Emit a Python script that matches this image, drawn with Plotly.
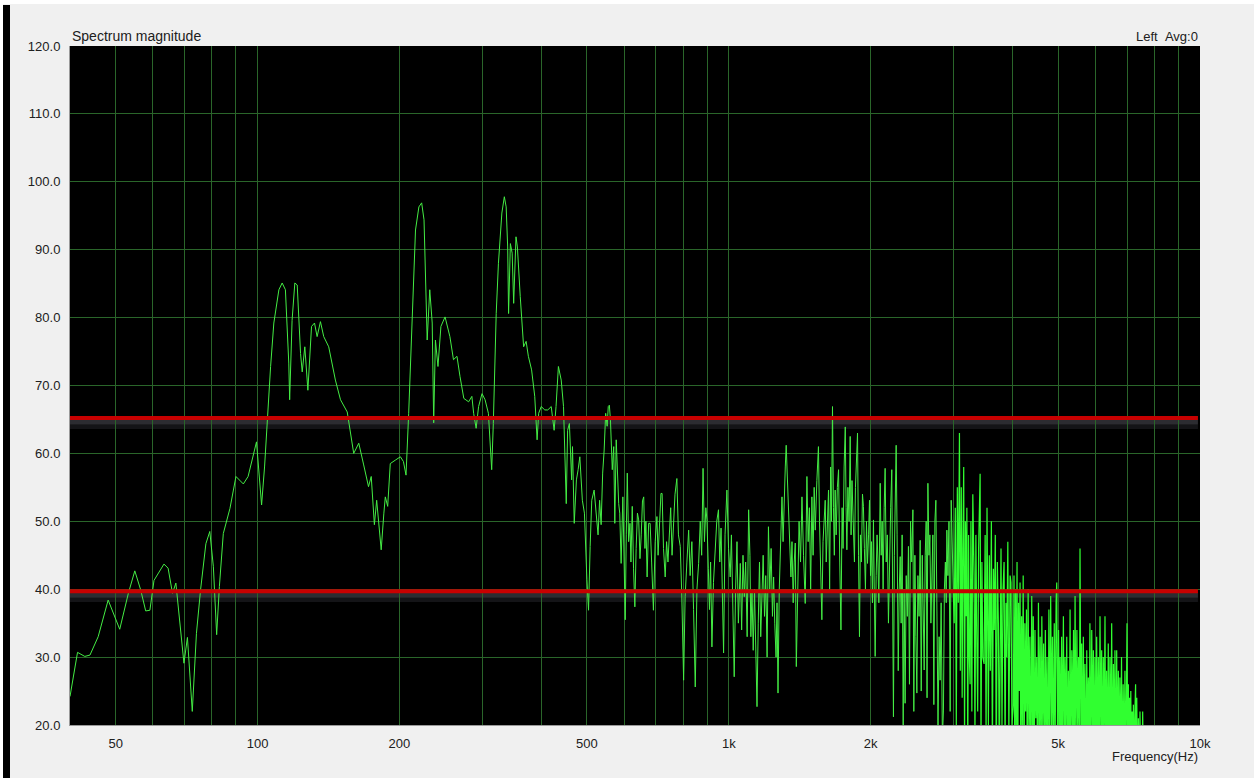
import math
import plotly.graph_objects as go

# ---------------- data ----------------
freq_low = [40.0, 41.5, 43.0, 44.1, 45.9, 48.2, 51.0, 53.2, 54.9, 56.5,
            57.9, 59.1, 60.3, 63.3, 64.6, 66.0, 67.1, 68.4, 69.8, 71.0,
            72.7, 74.2, 75.7, 77.7, 79.2, 80.6, 81.9, 83.0, 84.6, 87.4,
            90.0, 93.3, 95.5, 99.5, 102.0, 103.5, 105.0, 106.6, 108.3, 111.0,
            112.8, 114.6, 116.5, 117.0, 118.4, 120.0, 121.4, 123.4, 124.4, 126.0,
            127.9, 130.2, 132.1, 133.8, 136.0, 138.2, 141.6, 146.3, 150.0, 155.0,
            160.0, 164.0, 168.0, 172.0, 174.3, 177.0, 179.0, 183.0, 185.4, 186.7,
            188.9, 191.3, 196.0, 201.0, 204.0, 206.6, 209.3, 212.8, 216.4, 220.0,
            223.0, 225.6, 228.0, 229.1, 232.0, 234.8, 236.5, 238.5, 241.5, 245.0,
            250.0, 256.0, 260.5, 265.0, 269.0, 274.0, 280.5, 285.0, 287.5, 291.0,
            294.5, 299.5, 304.0, 309.0, 314.0, 316.5, 321.0, 324.5, 330.0, 334.0,
            337.0, 339.5, 341.0, 344.0, 347.0, 349.6, 353.6, 356.0, 361.0, 367.0,
            371.5, 375.6, 381.6, 387.5, 392.0, 395.0, 400.0, 407.0, 413.0, 420.0,
            426.0, 430.0, 435.0, 441.0, 446.0, 450.0, 452.0, 455.0, 459.0, 464.0,
            466.0, 470.0, 475.0, 479.0, 483.0, 489.0, 494.0]
db_low = [24.2, 30.7, 30.1, 30.3, 33.0, 38.4, 34.1, 39.4, 42.7, 39.9,
          36.8, 36.9, 41.3, 43.7, 43.1, 39.4, 40.9, 35.5, 29.1, 32.9,
          22.0, 33.5, 39.9, 46.7, 48.5, 43.3, 33.3, 40.4, 48.2, 51.9,
          56.6, 55.5, 56.6, 61.7, 52.4, 58.0, 66.0, 72.8, 79.2, 84.1,
          85.1, 84.1, 73.3, 67.9, 79.6, 85.1, 84.8, 74.7, 72.0, 75.7,
          69.3, 78.7, 79.2, 77.2, 79.4, 77.2, 75.7, 70.8, 67.9, 66.1,
          60.0, 61.5, 58.3, 55.1, 56.6, 49.5, 53.1, 45.8, 51.2, 53.6,
          52.2, 58.5, 59.0, 59.5, 58.8, 56.8, 65.9, 80.6, 92.9, 96.3,
          96.9, 94.4, 78.7, 76.7, 84.1, 79.2, 64.5, 76.7, 72.8, 78.7,
          80.1, 77.2, 73.8, 74.3, 71.3, 68.1, 67.6, 68.4, 65.9, 63.7,
          66.9, 68.8, 67.9, 65.9, 57.6, 64.4, 80.6, 88.0, 95.4, 97.8,
          96.3, 90.4, 80.6, 90.9, 89.5, 82.1, 91.9, 90.4, 83.1, 75.7,
          76.5, 74.3, 72.3, 68.4, 62.0, 65.9, 66.9, 66.4, 66.4, 66.9,
          63.4, 66.9, 72.8, 70.8, 66.9, 57.1, 52.6, 63.4, 64.4, 56.1,
          61.0, 49.7, 56.1, 57.6, 59.5, 53.1, 51.2]

freq_mid = [500, 504, 508, 512, 518, 524, 528, 532, 536, 540,
            544, 548, 552, 555, 558, 561, 566, 570, 573, 577,
            581, 584, 587, 591, 596, 600, 603, 606, 609, 613,
            617, 620, 624, 628, 632, 636, 640, 644, 648, 652,
            656, 660, 664, 667, 671, 676, 681, 686, 692, 698,
            704, 708, 713, 718, 722, 727, 733, 738, 743, 748,
            753, 758, 763, 769, 776, 782, 789, 795, 802, 808,
            815, 822, 828, 835, 842, 849, 856, 863, 870, 876,
            882, 888, 894, 899, 905, 910, 915, 921, 928, 936,
            943, 951, 957, 963, 969, 975, 982, 991, 999, 1007,
            1013, 1020, 1027, 1034, 1041, 1048, 1058, 1065, 1072, 1079,
            1086, 1094, 1102, 1109, 1114, 1120, 1127, 1134, 1141, 1148,
            1155, 1162, 1169, 1176, 1183, 1191, 1198, 1206, 1214, 1222,
            1230, 1238, 1245, 1252, 1260, 1266, 1272, 1280, 1290, 1297,
            1304, 1311, 1318, 1324, 1331, 1339, 1347, 1355, 1362, 1370,
            1377, 1384]
db_mid = [41.4, 36.9, 46.3, 53.1, 54.6, 51.2, 48.0, 53.1, 49.5, 57.1,
          60.5, 65.9, 64.0, 66.9, 67.1, 64.9, 57.6, 61.0, 49.7, 62.0,
          56.1, 52.6, 51.2, 43.8, 53.6, 45.0, 35.5, 48.0, 57.1, 47.0,
          49.7, 44.0, 52.2, 43.0, 37.4, 46.0, 51.2, 50.2, 44.5, 48.0,
          53.0, 53.6, 46.0, 50.0, 41.8, 49.7, 49.7, 44.0, 36.9, 47.0,
          50.7, 45.0, 50.0, 54.1, 54.1, 46.0, 41.8, 47.0, 44.0, 48.2,
          52.0, 45.0, 50.0, 54.0, 56.3, 48.0, 46.3, 39.0, 26.6, 38.9,
          44.0, 48.7, 42.0, 47.0, 37.0, 25.6, 40.0, 43.8, 50.0, 45.0,
          57.8, 47.0, 52.0, 50.2, 43.0, 37.0, 44.0, 31.5, 41.0, 45.8,
          50.0, 51.7, 44.0, 49.0, 38.0, 30.6, 48.0, 54.6, 46.0, 41.8,
          48.0, 38.0, 27.1, 40.0, 47.0, 35.0, 43.8, 34.0, 45.0, 38.9,
          44.0, 33.0, 51.7, 45.0, 33.0, 39.9, 31.0, 40.0, 33.0, 22.7,
          35.0, 44.0, 33.0, 37.9, 45.0, 36.0, 42.0, 30.0, 49.2, 40.0,
          46.0, 36.0, 41.8, 35.0, 30.0, 38.0, 24.7, 40.0, 48.0, 53.6,
          47.0, 55.0, 58.0, 61.2, 57.0, 53.6, 48.0, 41.8, 47.0, 38.0,
          44.0, 46.8]

freq_high = [1391, 1400, 1410, 1420, 1430, 1441, 1453, 1465, 1474, 1483,
             1492, 1501, 1510, 1518, 1526, 1538, 1550, 1558, 1566, 1576,
             1585, 1593, 1602, 1610, 1619, 1628, 1637, 1645, 1652, 1660,
             1668, 1675, 1682, 1690, 1700, 1710, 1720, 1730, 1740, 1748,
             1757, 1767, 1774, 1781, 1790, 1800, 1810, 1818, 1826, 1839,
             1848, 1857, 1866, 1876, 1885, 1894, 1903, 1912, 1922, 1931,
             1940, 1950, 1960, 1970, 1980, 1989, 1999, 2008, 2018, 2028,
             2036, 2045, 2055, 2064, 2073, 2082, 2096, 2106, 2116, 2126,
             2137, 2147, 2158, 2170, 2182, 2194, 2206, 2218, 2227, 2236,
             2246, 2256, 2266, 2276, 2289, 2300, 2311, 2322, 2333, 2345,
             2356, 2367, 2380, 2393, 2406, 2418, 2431, 2445, 2459, 2470,
             2483, 2495, 2507, 2520, 2534, 2548, 2561, 2574, 2586, 2598,
             2611, 2624, 2635, 2646, 2660, 2672, 2685, 2698, 2711, 2724,
             2738, 2751, 2765, 2780, 2795, 2809, 2823, 2840, 2855, 2868,
             2882, 2894, 2903, 2918, 2933, 2950, 2965, 2980, 2995]
db_high = [28.6, 42.0, 50.0, 44.0, 53.6, 45.0, 37.9, 56.6, 47.0, 52.0,
           40.0, 53.6, 45.0, 55.0, 48.7, 56.0, 61.0, 50.0, 42.0, 35.5,
           47.0, 50.0, 53.1, 44.0, 51.0, 54.6, 40.0, 58.0, 50.0, 66.9,
           52.0, 45.0, 54.6, 48.0, 55.0, 57.6, 44.0, 34.0, 52.0, 46.0,
           58.0, 63.9, 52.0, 45.8, 55.0, 50.0, 62.5, 48.0, 56.0, 49.7,
           44.0, 55.0, 60.0, 63.0, 45.0, 33.0, 48.0, 44.0, 54.0, 52.2,
           46.0, 40.0, 50.0, 43.8, 48.0, 53.1, 42.0, 47.0, 38.0, 50.2,
           40.0, 30.1, 42.0, 48.0, 44.0, 38.0, 55.6, 45.0, 50.0, 40.0,
           52.0, 57.8, 44.0, 48.0, 35.0, 46.0, 52.0, 57.6, 40.0, 21.2,
           45.0, 52.0, 61.2, 48.0, 28.0, 40.0, 44.8, 35.0, 48.0, 20.0,
           40.0, 23.2, 42.0, 36.0, 46.3, 26.0, 50.0, 44.0, 51.7, 22.0,
           45.0, 33.0, 24.7, 42.0, 36.0, 47.2, 25.0, 45.0, 34.0, 28.1,
           45.0, 50.0, 24.0, 55.6, 45.0, 48.0, 35.0, 39.9, 48.0, 23.0,
           50.0, 53.1, 40.0, 20.0, 33.0, 26.6, 38.0, 18.0, 22.2, 40.0,
           44.0, 38.0, 48.7, 42.0, 50.0, 22.0, 53.1, 44.0, 40.0]

freq_top = [3009, 3025, 3040, 3055, 3070, 3087, 3100, 3115, 3128, 3139,
            3152, 3165, 3178, 3190, 3201, 3215, 3228, 3240, 3252, 3265,
            3280, 3295, 3316, 3330, 3345, 3360, 3375, 3390, 3415, 3430,
            3445, 3460, 3482,
            3500, 3516, 3532, 3556, 3572, 3590, 3608, 3626, 3644, 3660,
            3678, 3696, 3715, 3734, 3750, 3765, 3782, 3800, 3820, 3839,
            3858, 3875, 3890, 3910, 3930, 3954, 3970, 3990]
db_top = [35, 52, 20, 55, 38, 63, 28, 55, 24, 46,
          58, 17, 50, 36, 52, 14, 48, 30, 26, 50,
          22, 54, 42, 18, 48, 33, 22, 46, 57, 16,
          44, 30, 29,
          48, 18, 52, 20, 45, 28, 50, 15, 43, 34,
          48, 12, 44, 35, 14, 25, 46, 20, 40, 44,
          16, 38, 30, 47, 18, 42, 41, 20]

freq_tail = [4018, 4030, 4045, 4060, 4075, 4090, 4105, 4120, 4135, 4151,
             4166, 4182, 4198, 4215, 4232, 4249, 4266, 4283, 4300, 4318,
             4336, 4354, 4372, 4395, 4410, 4428, 4446, 4465, 4484, 4503,
             4522, 4541, 4560, 4580, 4600, 4617, 4637, 4657, 4677, 4697,
             4715, 4737, 4758, 4779, 4800, 4821, 4842, 4863, 4884, 4906,
             4928, 4950, 4966, 4988, 5010, 5030, 5047,
             5065, 5085, 5105, 5130, 5150, 5170, 5190, 5215, 5235, 5256,
             5280, 5300, 5320, 5345, 5370, 5390, 5410, 5431, 5455, 5480,
             5500, 5525, 5545, 5564, 5590, 5610, 5635, 5655, 5680, 5700,
             5725, 5750, 5770, 5795, 5820, 5840, 5865, 5892, 5915, 5940,
             5960, 5988,
             6010, 6035, 6060, 6085, 6110, 6135, 6160, 6185, 6210, 6235,
             6260, 6286, 6310, 6335, 6360, 6388, 6415, 6440, 6470, 6495,
             6520, 6550, 6575, 6600, 6630, 6656, 6680, 6710, 6735, 6760,
             6787, 6815, 6840, 6870, 6900, 6930, 6960, 7000,
             7025, 7047, 7070, 7090, 7110, 7131, 7155, 7180, 7200, 7222,
             7245, 7270, 7300, 7320, 7342, 7370, 7400, 7430, 7459, 7485,
             7510, 7535, 7557, 7580, 7605]
db_tail = [23, 42, 15, 40, 18, 44, 12, 38, 25, 41,
           14, 36, 20, 42, 11, 35, 22, 37, 13, 40,
           19, 33, 12, 39, 17, 36, 10, 34, 21, 30,
           12, 38, 18, 33, 11, 36, 20, 32, 13, 34,
           18, 30, 10, 37, 16, 39, 20, 33, 12, 35,
           17, 38, 41, 14, 34, 19, 30,
           12, 33, 17, 36, 14, 30, 19, 33, 11, 28,
           15, 37, 13, 31, 18, 34, 12, 39, 16, 34,
           20, 30, 13, 46, 18, 32, 12, 33, 17, 29,
           11, 31, 18, 27, 14, 35, 12, 34, 19, 31,
           13, 30,
           11, 33, 16, 30, 13, 36, 18, 31, 12, 30,
           17, 36, 13, 28, 15, 32, 11, 30, 17, 35,
           12, 29, 15, 31, 12, 31, 16, 28, 11, 27,
           14, 30, 12, 26, 15, 28, 12, 35,
           14, 26, 12, 24, 13, 25, 12, 22, 14, 23,
           11, 21, 26, 13, 24, 12, 21, 13, 22, 12,
           19, 13, 22, 14, 20]

ref_levels = [65.2, 39.7]
x_tick_vals = [50, 100, 200, 500, 1000, 2000, 5000, 10000]
x_tick_text = ["50", "100", "200", "500", "1k", "2k", "5k", "10k"]
x_grid_vals = [50, 60, 70, 80, 90, 100, 200, 300, 400, 500, 600, 700, 800, 900,
               1000, 2000, 3000, 4000, 5000, 6000, 7000, 8000, 9000]
y_tick_vals = [20, 30, 40, 50, 60, 70, 80, 90, 100, 110, 120]

for a, b in [(freq_low, db_low), (freq_mid, db_mid), (freq_high, db_high),
             (freq_top, db_top), (freq_tail, db_tail)]:
    assert len(a) == len(b), (len(a), len(b))

freq_sparse = freq_low + freq_mid + freq_high
db_sparse = db_low + db_mid + db_high
freq_dense = freq_high[-1:] + freq_top + freq_tail
db_dense = db_high[-1:] + db_top + db_tail

# ---------------- layout geometry ----------------
W, H = 1254, 778
ML, MR, MT, MB = 70, 54, 46, 53
PW, PH = W - ML - MR, H - MT - MB


def px(xp):
    return (xp - ML) / PW


def py(yp):
    return (H - MB - yp) / PH


FONT = "Liberation Sans, Arial, sans-serif"
TXT = "#202020"
GRID = "#2a662a"

fig = go.Figure()
fig.add_trace(go.Scatter(x=freq_sparse, y=db_sparse, mode="lines",
                         line=dict(color="#44ec44", width=1),
                         hoverinfo="skip", showlegend=False))
fig.add_trace(go.Scatter(x=freq_dense, y=db_dense, mode="lines",
                         line=dict(color="#30ff30", width=1.2),
                         hoverinfo="skip", showlegend=False))

shapes = []
for lv in ref_levels:
    shapes.append(dict(type="rect", xref="x", yref="y", x0=40, x1=9900,
                       y0=lv - 0.95, y1=lv - 0.2, fillcolor="rgba(80,80,90,0.55)",
                       line=dict(width=0), layer="below"))
    shapes.append(dict(type="rect", xref="x", yref="y", x0=40, x1=9900,
                       y0=lv - 1.6, y1=lv - 0.95, fillcolor="rgba(80,80,90,0.25)",
                       line=dict(width=0), layer="below"))
    shapes.append(dict(type="line", xref="x", yref="y", x0=40, x1=9900,
                       y0=lv, y1=lv, line=dict(color="#c80000", width=4),
                       layer="above"))
# window decorations
shapes.append(dict(type="rect", xref="paper", yref="paper",
                   x0=px(3), x1=px(10), y0=py(778), y1=py(5),
                   fillcolor="#000000", line=dict(width=0)))
shapes.append(dict(type="rect", xref="paper", yref="paper",
                   x0=px(0), x1=px(1254), y0=py(4), y1=py(0),
                   fillcolor="#ffffff", line=dict(width=0)))
shapes.append(dict(type="rect", xref="paper", yref="paper",
                   x0=px(0), x1=px(3), y0=py(778), y1=py(0),
                   fillcolor="#ffffff", line=dict(width=0)))

annotations = [
    dict(text="Spectrum magnitude", xref="paper", yref="paper",
         x=px(70), y=py(36), xanchor="left", yanchor="middle", showarrow=False,
         font=dict(family=FONT, size=14, color=TXT)),
    dict(text="Left\u00a0\u00a0Avg:0", xref="paper", yref="paper",
         x=px(1200), y=py(36), xanchor="right", yanchor="middle", showarrow=False,
         font=dict(family=FONT, size=13, color=TXT)),
    dict(text="Frequency(Hz)", xref="paper", yref="paper",
         x=px(1200), y=py(756), xanchor="right", yanchor="middle", showarrow=False,
         font=dict(family=FONT, size=13, color=TXT)),
]

fig.update_layout(
    width=W, height=H, autosize=False,
    margin=dict(l=ML, r=MR, t=MT, b=MB, pad=0),
    paper_bgcolor="#f0f0f0", plot_bgcolor="#000000",
    shapes=shapes, annotations=annotations, showlegend=False,
    xaxis=dict(type="log", range=[math.log10(40), 4],
               tickmode="array", tickvals=x_tick_vals, ticktext=x_tick_text,
               showgrid=False,
               minor=dict(tickmode="array", tickvals=x_grid_vals,
                          showgrid=True, gridcolor=GRID, gridwidth=1, ticks=""),
               ticks="", ticklabelstandoff=6,
               showline=True, linecolor="#9a9a9a", linewidth=1, mirror=False,
               zeroline=False, fixedrange=True,
               tickfont=dict(family=FONT, size=13, color=TXT)),
    yaxis=dict(range=[20, 120], tickmode="array", tickvals=y_tick_vals,
               tickformat=".1f", showgrid=True, gridcolor=GRID, gridwidth=1,
               ticks="", ticklabelstandoff=6,
               showline=True, linecolor="#9a9a9a", linewidth=1, mirror=False,
               zeroline=False, fixedrange=True,
               tickfont=dict(family=FONT, size=13, color=TXT)),
)

fig.write_html("out.html",
               config={"displayModeBar": False, "staticPlot": True},
               post_script="document.body.style.margin='0px';"
                           "document.body.style.background='#ffffff';")
